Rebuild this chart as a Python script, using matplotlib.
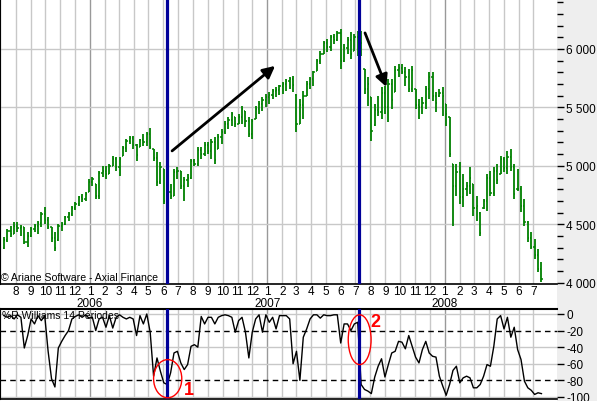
import matplotlib
matplotlib.use("Agg")
import matplotlib.pyplot as plt
import matplotlib.dates as mdates
from matplotlib.patches import Ellipse, Rectangle
import pandas as pd

plt.rcParams["font.family"] = ["Liberation Sans", "DejaVu Sans"]
plt.rcParams["axes.unicode_minus"] = False

# weekly bars, CAC-style index, Jul 2005 - Jul 2008
week_dates = pd.date_range("2005-07-08", periods=159, freq="7D")

highs = [
    4395, 4460, 4485, 4520, 4520, 4495, 4480, 4435, 4480, 4505,
    4530, 4605, 4650, 4565, 4480, 4435, 4505, 4520, 4575, 4605,
    4660, 4690, 4745, 4760, 4780, 4890, 4905, 4845, 4955, 5000,
    5000, 5015, 5085, 5075, 5075, 5170, 5230, 5255, 5255, 5190,
    5230, 5275, 5290, 5325, 5145, 5120, 5035, 4975, 4830, 4845,
    4975, 4990, 4955, 4905, 4930, 5060, 5060, 5160, 5160, 5205,
    5205, 5230, 5250, 5275, 5315, 5385, 5420, 5460, 5420, 5445,
    5515, 5470, 5420, 5400, 5515, 5555, 5590, 5615, 5630, 5660,
    5675, 5690, 5720, 5745, 5760, 5770, 5615, 5575, 5640, 5725,
    5760, 5810, 5915, 5985, 6070, 6085, 6120, 6130, 6155, 6170,
    6045, 6105, 6145, 6130, 6155, 6155, 5830, 5760, 5590, 5530,
    5600, 5675, 5685, 5745, 5745, 5855, 5870, 5870, 5845, 5830,
    5855, 5660, 5575, 5590, 5685, 5805, 5805, 5630, 5660, 5675,
    5530, 5420, 5015, 5015, 5035, 4930, 4865, 4990, 4845, 4745,
    4605, 4720, 4930, 4955, 4990, 5015, 5085, 5075, 5130, 5145,
    5015, 4975, 4830, 4720, 4530, 4435, 4375, 4290, 4180,
]
lows = [
    4290, 4350, 4395, 4420, 4435, 4400, 4335, 4310, 4395, 4435,
    4420, 4480, 4505, 4460, 4350, 4275, 4360, 4445, 4495, 4530,
    4575, 4625, 4660, 4690, 4700, 4780, 4830, 4720, 4720, 4905,
    4890, 4930, 5000, 4955, 4915, 5085, 5120, 5190, 5145, 5045,
    5160, 5170, 5170, 5145, 5045, 4830, 4845, 4675, 4675, 4720,
    4745, 4890, 4805, 4700, 4820, 4890, 5000, 5000, 5060, 5085,
    5105, 5060, 5015, 5145, 5190, 5275, 5315, 5340, 5335, 5360,
    5360, 5335, 5250, 5230, 5400, 5445, 5470, 5505, 5530, 5575,
    5590, 5605, 5615, 5640, 5660, 5630, 5290, 5360, 5400, 5600,
    5660, 5685, 5810, 5870, 5955, 5975, 5985, 6045, 6070, 5830,
    5890, 5955, 5915, 5985, 5940, 5940, 5615, 5515, 5215, 5340,
    5425, 5400, 5445, 5375, 5485, 5630, 5760, 5785, 5685, 5630,
    5630, 5485, 5400, 5445, 5485, 5575, 5555, 5460, 5590, 5425,
    5340, 5075, 4485, 4745, 4675, 4650, 4745, 4760, 4575, 4530,
    4400, 4630, 4615, 4745, 4745, 4845, 4930, 4950, 4930, 4955,
    4720, 4785, 4605, 4485, 4350, 4290, 4205, 4095, 4010,
]
opens = [
    4300, 4370, 4440, 4420, 4490, 4470, 4480, 4350, 4400, 4460,
    4490, 4510, 4590, 4540, 4480, 4380, 4365, 4490, 4505, 4560,
    4590, 4640, 4670, 4730, 4720, 4780, 4860, 4845, 4740, 4940,
    4960, 4930, 5000, 5060, 4990, 5085, 5150, 5210, 5240, 5180,
    5160, 5220, 5200, 5270, 5145, 5070, 4860, 4975, 4700, 4780,
    4745, 4950, 4955, 4830, 4880, 4900, 5040, 5020, 5140, 5100,
    5180, 5130, 5200, 5145, 5250, 5290, 5360, 5390, 5420, 5360,
    5420, 5470, 5380, 5270, 5400, 5490, 5530, 5560, 5590, 5610,
    5640, 5650, 5680, 5700, 5730, 5740, 5610, 5360, 5520, 5600,
    5700, 5740, 5810, 5900, 5960, 6050, 6020, 6100, 6080, 6140,
    5900, 6010, 6080, 5985, 6100, 6060, 5830, 5660, 5590, 5350,
    5480, 5460, 5620, 5500, 5700, 5630, 5820, 5840, 5800, 5760,
    5660, 5660, 5520, 5500, 5540, 5660, 5760, 5600, 5600, 5620,
    5530, 5420, 5015, 4830, 4950, 4730, 4800, 4830, 4845, 4640,
    4600, 4640, 4700, 4900, 4770, 4960, 4930, 5060, 4980, 5080,
    4990, 4800, 4800, 4660, 4520, 4380, 4310, 4240, 4120,
]
closes = [
    4370, 4440, 4420, 4490, 4470, 4480, 4350, 4400, 4460, 4490,
    4510, 4590, 4540, 4480, 4380, 4300, 4490, 4505, 4560, 4590,
    4640, 4670, 4730, 4720, 4760, 4860, 4890, 4740, 4940, 4960,
    4930, 5000, 5060, 4990, 5060, 5150, 5210, 5240, 5180, 5090,
    5220, 5200, 5270, 5160, 5070, 4860, 4990, 4700, 4780, 4740,
    4950, 4960, 4830, 4880, 4900, 5040, 5020, 5140, 5100, 5180,
    5130, 5200, 5050, 5250, 5290, 5360, 5390, 5440, 5360, 5420,
    5490, 5380, 5270, 5380, 5490, 5530, 5560, 5590, 5610, 5640,
    5650, 5680, 5700, 5730, 5740, 5690, 5360, 5520, 5600, 5700,
    5740, 5800, 5900, 5960, 6050, 6020, 6100, 6080, 6140, 5900,
    6010, 6080, 5960, 6100, 6060, 6050, 5660, 5700, 5300, 5480,
    5460, 5620, 5500, 5700, 5560, 5820, 5840, 5800, 5760, 5660,
    5820, 5520, 5500, 5540, 5660, 5760, 5600, 5540, 5620, 5600,
    5440, 5100, 4830, 4950, 4730, 4800, 4830, 4900, 4640, 4660,
    4430, 4700, 4900, 4770, 4960, 4880, 5060, 4980, 5080, 4990,
    4760, 4800, 4660, 4520, 4380, 4310, 4240, 4120, 4030,
]
williams_r = [
    -2, -4, -2, -6, -1, -4, -41, -26, -6, -12,
    -2, -8, -2, -45, -78, -88, -41, -33, -26, -20,
    -6, -3, -1, -4, -1, -5, -4, -20, -6, -4,
    -16, -2, -17, -4, -1, -4, -6, -4, -6, -26,
    -2, -12, 0, -22, -75, -53, -69, -83, -85, -71,
    -47, -45, -59, -67, -61, -39, -37, -40, -3, -12,
    -4, -4, -12, -4, -2, -1, -2, -4, -22, -8,
    -4, -22, -53, -22, -6, -1, -22, -1, -10, -4,
    -18, -2, -2, -2, -6, -60, -45, -80, -28, -18,
    -6, -1, -1, -5, -1, -2, -2, -1, -1, -35,
    -12, -12, -20, -12, -10, -85, -91, -93, -96, -76,
    -63, -54, -76, -61, -47, -45, -33, -34, -42, -26,
    -39, -52, -59, -43, -33, -47, -51, -52, -75, -87,
    -98, -85, -68, -63, -83, -77, -75, -77, -89, -89,
    -85, -75, -61, -63, -39, -6, -2, -18, -4, -28,
    -16, -43, -55, -81, -89, -92, -97, -95, -96,
]
signal_dates = ["2006-06-08", "2007-07-08"]

GREEN = "#008000"
NAVY = "#000099"
GRID = "#c8c8c8"
YEARGRID = "#999999"

x = mdates.date2num(week_dates)
tick = 2.5  # days, open/close ticks

fig = plt.figure(figsize=(5.97, 4.02), dpi=100)
fig.patches.append(Rectangle((557 / 597, 0), 40 / 597, 1, transform=fig.transFigure,
                             facecolor="#eeeeee", edgecolor="none", zorder=-5))

ax = fig.add_axes([0, 1 - 285 / 402, 557 / 597, 285 / 402])
ax2 = fig.add_axes([0, 1 - 400 / 402, 557 / 597, 90 / 402])

x0 = mdates.date2num(pd.Timestamp("2005-06-30"))
x1 = mdates.date2num(pd.Timestamp("2008-08-19"))
months = pd.date_range("2005-07-01", "2008-07-01", freq="MS")

for a in (ax, ax2):
    a.set_xlim(x0, x1)
    for m in months:
        a.axvline(mdates.date2num(m), color=YEARGRID if m.month == 1 else GRID,
                  lw=1, zorder=0)
    for s in ("top", "right"):
        a.spines[s].set_visible(False)
    a.spines["left"].set_linewidth(1.5)
    a.spines["bottom"].set_linewidth(1.2)
    for d in signal_dates:
        a.axvline(mdates.date2num(pd.Timestamp(d)), color=NAVY, lw=2.3, zorder=4)

# price bars
ax.vlines(x, lows, highs, color=GREEN, lw=1.3, zorder=3)
ax.hlines(opens, x - tick, x, color=GREEN, lw=1.1, zorder=3)
ax.hlines(closes, x, x + tick, color=GREEN, lw=1.1, zorder=3)

ax.set_ylim(3990, 6427)
for lvl in (4500, 5000, 5500, 6000):
    ax.axhline(lvl, color=GRID, lw=1, zorder=0)
ax.yaxis.tick_right()
ax.set_yticks([4000, 4500, 5000, 5500, 6000])
ax.set_yticklabels([f"{v:,}".replace(",", " ") for v in [4000, 4500, 5000, 5500, 6000]])
ax.set_yticks(range(4000, 6500, 100), minor=True)
ax.tick_params(axis="y", which="major", length=5, width=1, pad=1.5, labelsize=8.5)
ax.tick_params(axis="y", which="minor", length=4, width=1)

lab_months = months[1:]
ax.set_xticks(mdates.date2num(lab_months))
ax.set_xticklabels([str(m.month) for m in lab_months])
ax.tick_params(axis="x", length=0, pad=1, labelsize=8.5)
for yr in (2006, 2007, 2008):
    ax.text(mdates.date2num(pd.Timestamp(f"{yr}-01-01")), -0.066, str(yr),
            transform=ax.get_xaxis_transform(), ha="center", va="center", fontsize=8.5)

ax.text(0.002, 0.025, "© Ariane Software - Axial Finance", transform=ax.transAxes,
        ha="left", va="center", fontsize=7.6)

arrow = dict(arrowstyle="-|>", color="black", lw=2, mutation_scale=18, shrinkA=0, shrinkB=0)
ax.annotate("", xy=(mdates.date2num(pd.Timestamp("2007-01-17")), 5855),
            xytext=(mdates.date2num(pd.Timestamp("2006-06-19")), 5128), arrowprops=arrow, zorder=6)
ax.annotate("", xy=(mdates.date2num(pd.Timestamp("2007-09-03")), 5675),
            xytext=(mdates.date2num(pd.Timestamp("2007-07-21")), 6137), arrowprops=arrow, zorder=6)

# Williams %R panel
ax2.plot(x, williams_r, color="black", lw=1, zorder=3)
ax2.set_ylim(-102.5, 6)
for lvl in (0, -40, -60, -100):
    ax2.axhline(lvl, color=GRID, lw=1, zorder=0)
for lvl in (-20, -80):
    ax2.axhline(lvl, color="black", lw=1, ls=(0, (4, 3)), zorder=1)
ax2.spines["top"].set_visible(True)
ax2.spines["top"].set_linewidth(1.5)
ax2.yaxis.tick_right()
ax2.set_yticks([0, -20, -40, -60, -80, -100])
ax2.tick_params(axis="y", length=5, width=1, pad=1.5, labelsize=8.5)
ax2.set_xticks([])
ax2.text(0.004, 0.93, "%R Williams 14 Périodes", transform=ax2.transAxes,
         ha="left", va="center", fontsize=7.5)

ax2.add_patch(Ellipse((mdates.date2num(pd.Timestamp("2006-06-10")), -78), 58, 46,
                      fill=False, edgecolor="red", lw=1, zorder=5))
ax2.add_patch(Ellipse((mdates.date2num(pd.Timestamp("2007-07-10")), -31), 47, 60,
                      fill=False, edgecolor="red", lw=1, zorder=5))
ax2.text(mdates.date2num(pd.Timestamp("2006-07-24")), -91, "1", color="red",
         fontsize=13, fontweight="bold", ha="center", va="center", zorder=6)
ax2.text(mdates.date2num(pd.Timestamp("2007-08-11")), -8.5, "2", color="red",
         fontsize=13, fontweight="bold", ha="center", va="center", zorder=6)

fig.savefig("out.png", dpi=100)
